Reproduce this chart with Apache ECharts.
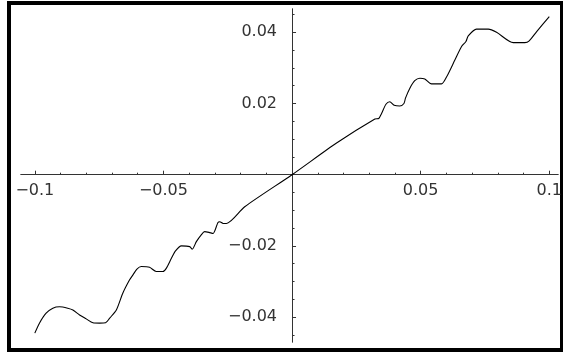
<!DOCTYPE html>
<html>
<head>
<meta charset="utf-8">
<script src="https://cdn.jsdelivr.net/npm/echarts@6/dist/echarts.min.js"></script>
<style>
html,body{margin:0;padding:0;background:#fff;}
#chart{width:563px;height:354px;}
</style>
</head>
<body>
<div id="chart"></div>
<script>
// ---- data ----
const xValues = [-0.1000,-0.0982,-0.0956,-0.0930,-0.0904,-0.0872,-0.0852,-0.0826,-0.0800,-0.0774,-0.0748,-0.0725,-0.0709,-0.0683,-0.0658,-0.0632,-0.0619,-0.0603,-0.0586,-0.0554,-0.0528,-0.0502,-0.0489,-0.0469,-0.0453,-0.0430,-0.0398,-0.0388,-0.0372,-0.0353,-0.0340,-0.0323,-0.0307,-0.0288,-0.0281,-0.0268,-0.0255,-0.0184,0,0.0173,0.0322,0.0337,0.0348,0.0365,0.0380,0.0397,0.0419,0.0435,0.0441,0.0458,0.0477,0.0497,0.0516,0.0542,0.0581,0.0601,0.0633,0.0659,0.0676,0.0685,0.0717,0.0763,0.0795,0.0860,0.0905,0.0922,0.0951,0.1000];
const yValues = [-0.0445,-0.0417,-0.0389,-0.0375,-0.0371,-0.0375,-0.0380,-0.0394,-0.0405,-0.0416,-0.0417,-0.0416,-0.0403,-0.0380,-0.0333,-0.0296,-0.0282,-0.0265,-0.0258,-0.0260,-0.0272,-0.0272,-0.0263,-0.0235,-0.0214,-0.0200,-0.0202,-0.0209,-0.0188,-0.0169,-0.0160,-0.0162,-0.0165,-0.0134,-0.0132,-0.0137,-0.0137,-0.0090,0,0.0089,0.01565,0.0158,0.0172,0.0198,0.0205,0.0195,0.0193,0.0200,0.0215,0.0243,0.0264,0.0271,0.0269,0.0255,0.0255,0.0275,0.0322,0.0360,0.0374,0.0390,0.0409,0.0409,0.0400,0.0371,0.0371,0.0376,0.0402,0.0444];

const xMajorTicks = [-0.1,-0.05,0.05,0.1];
const xMinorTicks = [-0.09,-0.08,-0.07,-0.06,-0.04,-0.03,-0.02,-0.01,0.01,0.02,0.03,0.04,0.06,0.07,0.08,0.09];
const xTickLabels = [-0.1,-0.05,0.05,0.1];
const yMajorTicks = [-0.04,-0.02,0.02,0.04];
const yMinorTicks = [-0.045,-0.035,-0.03,-0.025,-0.015,-0.01,-0.005,0.005,0.01,0.015,0.025,0.03,0.035,0.045];
const yTickLabels = [-0.04,-0.02,0.02,0.04];

const xRange = [-0.10537, 0.10339];
const yRange = [-0.046994, 0.046545];

// ---- layout ----
const W = 563, H = 354;
const G = { left: 21, right: 5, top: 9, bottom: 12 };
const gw = W - G.left - G.right, gh = H - G.top - G.bottom;
// where zero falls inside the grid (used to shift the labelled axes onto the zero lines)
const zeroFromLeft = gw * (0 - xRange[0]) / (xRange[1] - xRange[0]);
const zeroFromBottom = gh * (0 - yRange[0]) / (yRange[1] - yRange[0]);

const points = xValues.map((x, i) => [x, yValues[i]]);
const fmt = v => {
  const s = String(Math.round(v * 1000) / 1000);
  return s.replace('-', '\u2212');
};
const axisColor = '#333';
const labelFont = { fontFamily: 'DejaVu Sans', fontSize: 16, color: '#333' };

function xAxisDef(g, ticks, len, labels, onZero) {
  return {
    type: 'value', gridIndex: g, min: xRange[0], max: xRange[1], position: 'bottom',
    offset: onZero ? 0 : -zeroFromBottom,
    axisLine: { show: true, onZero: onZero, lineStyle: { color: axisColor, width: 1 } },
    axisTick: { show: true, inside: true, length: len, customValues: ticks, lineStyle: { color: axisColor, width: 1 } },
    axisLabel: labels ? Object.assign({ show: true, customValues: labels, margin: 8, formatter: fmt }, labelFont) : { show: false },
    splitLine: { show: false }
  };
}
function yAxisDef(g, ticks, len, labels, onZero) {
  return {
    type: 'value', gridIndex: g, min: yRange[0], max: yRange[1], position: 'left',
    offset: onZero ? 0 : -zeroFromLeft,
    axisLine: { show: true, onZero: onZero, lineStyle: { color: axisColor, width: 1 } },
    axisTick: { show: true, inside: true, length: len, customValues: ticks, lineStyle: { color: axisColor, width: 1 } },
    axisLabel: labels ? Object.assign({ show: true, customValues: labels, margin: 15, formatter: fmt }, labelFont) : { show: false },
    splitLine: { show: false }
  };
}

const gridBox = { left: G.left, right: G.right, top: G.top, bottom: G.bottom, containLabel: false, outerBoundsMode: 'none' };
const chart = echarts.init(document.getElementById('chart'), null, { renderer: 'canvas' });
chart.setOption({
  animation: false,
  backgroundColor: '#fff',
  grid: [Object.assign({}, gridBox), Object.assign({}, gridBox)],
  xAxis: [xAxisDef(0, xMinorTicks, 2, null, true), xAxisDef(1, xMajorTicks, 4, xTickLabels, false)],
  yAxis: [yAxisDef(0, yMinorTicks, 2.5, null, true), yAxisDef(1, yMajorTicks, 4, yTickLabels, false)],
  series: [{
    type: 'line', xAxisIndex: 0, yAxisIndex: 0,
    data: points, showSymbol: false, smooth: 0.25,
    lineStyle: { color: '#000', width: 1.1 }
  }, {
    type: 'line', xAxisIndex: 1, yAxisIndex: 1, silent: true,
    data: points, showSymbol: false,
    lineStyle: { opacity: 0 }
  }],
  graphic: [
    { type: 'rect', shape: { x: 7, y: 1, width: 4, height: 351 }, style: { fill: '#000' } },
    { type: 'rect', shape: { x: 7, y: 1, width: 556, height: 4 }, style: { fill: '#000' } },
    { type: 'rect', shape: { x: 7, y: 348, width: 556, height: 4 }, style: { fill: '#000' } },
    { type: 'rect', shape: { x: 560, y: 1, width: 3, height: 351 }, style: { fill: '#000' } }
  ]
});
</script>
</body>
</html>
